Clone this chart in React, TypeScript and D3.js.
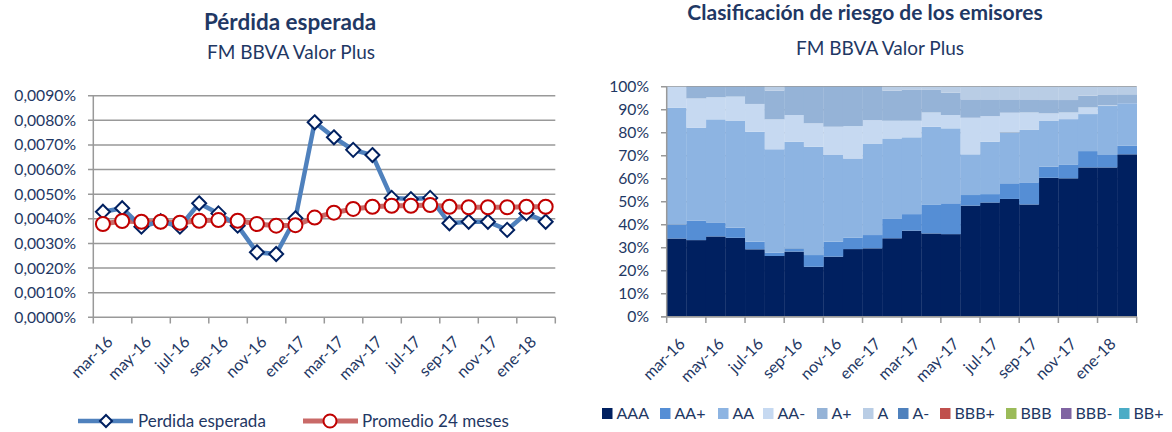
import React from 'react';
import * as d3 from 'd3';

// months (mar-16 .. feb-18)
const months = [
  'mar-16', 'abr-16', 'may-16', 'jun-16', 'jul-16', 'ago-16', 'sep-16', 'oct-16',
  'nov-16', 'dic-16', 'ene-17', 'feb-17', 'mar-17', 'abr-17', 'may-17', 'jun-17',
  'jul-17', 'ago-17', 'sep-17', 'oct-17', 'nov-17', 'dic-17', 'ene-18', 'feb-18',
];

// values in percent
const perdida = [
  0.00429, 0.00443, 0.00368, 0.0039, 0.00368, 0.00463, 0.00422, 0.00372,
  0.00264, 0.00257, 0.00402, 0.00792, 0.00731, 0.0068, 0.00659, 0.00485,
  0.0048, 0.00485, 0.00382, 0.00388, 0.00388, 0.00355, 0.00422, 0.00388,
];
const promedio = [
  0.00379, 0.00391, 0.00388, 0.00388, 0.00384, 0.00392, 0.00395, 0.00392,
  0.00379, 0.00372, 0.00374, 0.00405, 0.00425, 0.0044, 0.00449, 0.00453,
  0.00453, 0.00456, 0.00449, 0.00447, 0.00447, 0.00447, 0.00449, 0.00449,
];
const leftTicks = [0, 0.001, 0.002, 0.003, 0.004, 0.005, 0.006, 0.007, 0.008, 0.009];

const ratings = ['AAA', 'AA+', 'AA', 'AA-', 'A+', 'A', 'A-', 'BBB+', 'BBB', 'BBB-', 'BB+'];
const ratingColors = ['#002060', '#558ED5', '#8DB4E2', '#C6D9F1', '#95B3D7', '#B9CDE5', '#4F81BD', '#C0504D', '#9BBB59', '#8064A2', '#4BACC6'];

const sAAA = [34.0, 33.3, 34.9, 34.3, 29.3, 26.4, 28.3, 21.7, 26.1, 29.4, 29.7, 34.1, 37.4, 36.2, 35.9, 48.3, 49.6, 51.2, 48.8, 60.4, 60.1, 64.9, 64.9, 70.6];
const sAAplus = [6.0, 8.4, 6.1, 4.4, 3.3, 1.4, 1.4, 5.1, 6.5, 4.9, 5.8, 8.4, 7.2, 12.4, 13.4, 4.6, 3.7, 6.8, 9.6, 4.8, 6.1, 7.1, 5.4, 3.7];
const sAA = [50.8, 40.5, 44.8, 46.4, 47.8, 45.0, 46.4, 47.1, 37.7, 34.5, 39.6, 35.0, 33.4, 34.0, 32.6, 17.7, 22.8, 22.1, 22.8, 19.9, 19.7, 16.1, 21.3, 18.5];
const sAAminus = [9.2, 12.7, 9.6, 10.6, 12.1, 13.0, 11.6, 10.2, 12.3, 14.1, 10.4, 7.7, 7.2, 6.2, 5.8, 15.9, 11.1, 8.6, 7.6, 3.3, 2.9, 2.9, 0.3, 0];
const sAplus = [0, 5.1, 4.6, 4.3, 7.5, 12.5, 12.3, 15.9, 17.4, 17.1, 14.5, 13.1, 13.4, 9.8, 9.7, 8.0, 7.3, 5.8, 5.7, 5.8, 5.4, 5.1, 4.5, 3.9];
const sA = [0, 0, 0, 0, 0, 1.7, 0, 0, 0, 0, 0, 1.7, 1.4, 1.4, 2.6, 5.5, 5.5, 5.5, 5.5, 5.8, 5.8, 3.9, 3.6, 3.3];
const zeros = months.map(() => 0);
const ratingSeries = [sAAA, sAAplus, sAA, sAAminus, sAplus, sA, zeros, zeros, zeros, zeros, zeros];
const rightTicks = [0, 10, 20, 30, 40, 50, 60, 70, 80, 90, 100];

const FONT = 'Lato, "Open Sans", sans-serif';
const NAVY = '#1F3864';

const fmtPct = (v: number) => v.toFixed(4).replace('.', ',') + '%';

function LeftChart() {
  const x = d3.scaleBand<string>().domain(months).range([93.3, 555.3]);
  const y = d3.scaleLinear().domain([0, 0.009]).range([317.3, 95.7]);
  const cx = (m: string) => (x(m) as number) + x.bandwidth() / 2;
  const line = d3.line<number>().x((_, i) => cx(months[i])).y(d => y(d));
  const tickX = months.filter((_, i) => i % 2 === 0).map(m => x(m) as number).concat([555.3]);
  const diamond = (r: number) => `M0,${-r}L${r},0L0,${r}L${-r},0Z`;
  return (
    <g>
      <text x={290} y={30} textAnchor="middle" fontSize={22.5} fontWeight="bold" fill={NAVY}>Pérdida esperada</text>
      <text x={291} y={59} textAnchor="middle" fontSize={19} fill={NAVY}>FM BBVA Valor Plus</text>
      {leftTicks.map(t => (
        <g key={t}>
          <line x1={88} x2={555.3} y1={y(t)} y2={y(t)} stroke="#999" strokeWidth={1.5} />
          <text x={76} y={y(t)} dy="0.35em" textAnchor="end" fontSize={15.7} fill={NAVY}>{fmtPct(t)}</text>
        </g>
      ))}
      <line x1={93.3} x2={93.3} y1={95.7} y2={317.3} stroke="#999" strokeWidth={1.5} />
      {tickX.map((tx, i) => (
        <line key={i} x1={tx} x2={tx} y1={317.3} y2={323.5} stroke="#999" strokeWidth={1.5} />
      ))}
      {months.map((m, i) => i % 2 === 0 ? (
        <text key={m} transform={`translate(${cx(m) + 7},${339}) rotate(-45)`} textAnchor="end" dy="0.35em" fontSize={16} fill={NAVY}>{m}</text>
      ) : null)}
      <path d={line(promedio) || ''} fill="none" stroke="#C0504D" strokeOpacity={0.85} strokeWidth={5} />
      <path d={line(perdida) || ''} fill="none" stroke="#4F81BD" strokeWidth={4.5} />
      {perdida.map((v, i) => (
        <path key={i} d={diamond(7)} transform={`translate(${cx(months[i])},${y(v)})`} fill="#fff" stroke="#002060" strokeWidth={2} />
      ))}
      {promedio.map((v, i) => (
        <circle key={i} cx={cx(months[i])} cy={y(v)} r={7} fill="#fff" stroke="#C00000" strokeWidth={2} />
      ))}
      {/* legend */}
      <line x1={78} x2={133} y1={421} y2={421} stroke="#4F81BD" strokeWidth={4.5} />
      <path d={diamond(6)} transform="translate(106,421)" fill="#fff" stroke="#002060" strokeWidth={2} />
      <text x={138} y={421} dy="0.35em" fontSize={17} fill={NAVY}>Perdida esperada</text>
      <line x1={303} x2={358} y1={421} y2={421} stroke="#C0504D" strokeOpacity={0.85} strokeWidth={5} />
      <circle cx={330} cy={421} r={6.5} fill="#fff" stroke="#C00000" strokeWidth={2} />
      <text x={362} y={421} dy="0.35em" fontSize={17} fill={NAVY}>Promedio 24 meses</text>
    </g>
  );
}

function RightChart() {
  const x = d3.scaleBand<string>().domain(months).range([666.7, 1136.7]);
  const y = d3.scaleLinear().domain([0, 100]).range([316.7, 86.7]);
  const rows = months.map((m, i) => {
    const r: Record<string, number | string> = { month: m };
    ratings.forEach((k, j) => { r[k] = ratingSeries[j][i]; });
    return r;
  });
  const stack = d3.stack<Record<string, number | string>>().keys(ratings).value((d, k) => d[k] as number);
  const layers = stack(rows);
  const tickX = months.filter((_, i) => i % 2 === 0).map(m => x(m) as number).concat([1136.7]);
  const legendX = [602, 660, 718, 763, 817, 863, 898, 940, 1006, 1061, 1119];
  return (
    <g>
      <text x={865} y={20} textAnchor="middle" fontSize={21} fontWeight="bold" fill={NAVY}>Clasificación de riesgo de los emisores</text>
      <text x={880} y={55} textAnchor="middle" fontSize={19} fill={NAVY}>FM BBVA Valor Plus</text>
      {rightTicks.map(t => (
        <g key={t}>
          <line x1={661} x2={1136.7} y1={y(t)} y2={y(t)} stroke="#999" strokeWidth={1.5} />
          <text x={649} y={y(t)} dy="0.35em" textAnchor="end" fontSize={15.7} fill={NAVY}>{t}%</text>
        </g>
      ))}
      {layers.map((layer, j) => (
        <g key={ratings[j]} fill={ratingColors[j]}>
          {layer.map((d, i) => d[1] - d[0] > 0 ? (
            <rect key={i} x={x(months[i]) as number} width={x.bandwidth() + 0.3} y={y(d[1])} height={y(d[0]) - y(d[1])} />
          ) : null)}
        </g>
      ))}
      <line x1={666.7} x2={666.7} y1={86.7} y2={316.7} stroke="#999" strokeWidth={1.5} />
      <line x1={661} x2={1136.7} y1={316.7} y2={316.7} stroke="#999" strokeWidth={1.5} />
      {tickX.map((tx, i) => (
        <line key={i} x1={tx} x2={tx} y1={316.7} y2={323} stroke="#999" strokeWidth={1.5} />
      ))}
      {months.map((m, i) => i % 2 === 0 ? (
        <text key={m} transform={`translate(${(x(m) as number) + x.bandwidth() / 2 + 5.5},${341}) rotate(-45)`} textAnchor="end" dy="0.35em" fontSize={16} fill={NAVY}>{m}</text>
      ) : null)}
      {ratings.map((r, j) => (
        <g key={r}>
          <rect x={legendX[j]} y={408} width={10.5} height={11} fill={ratingColors[j]} />
          <text x={legendX[j] + 14.5} y={419} fontSize={16} fill={NAVY}>{r}</text>
        </g>
      ))}
    </g>
  );
}

export default function App() {
  return (
    <svg width={1172} height={432} style={{ position: 'absolute', left: 0, top: 0, fontFamily: FONT, background: '#fff' }}>
      <rect width={1172} height={432} fill="#fff" />
      <LeftChart />
      <RightChart />
    </svg>
  );
}
